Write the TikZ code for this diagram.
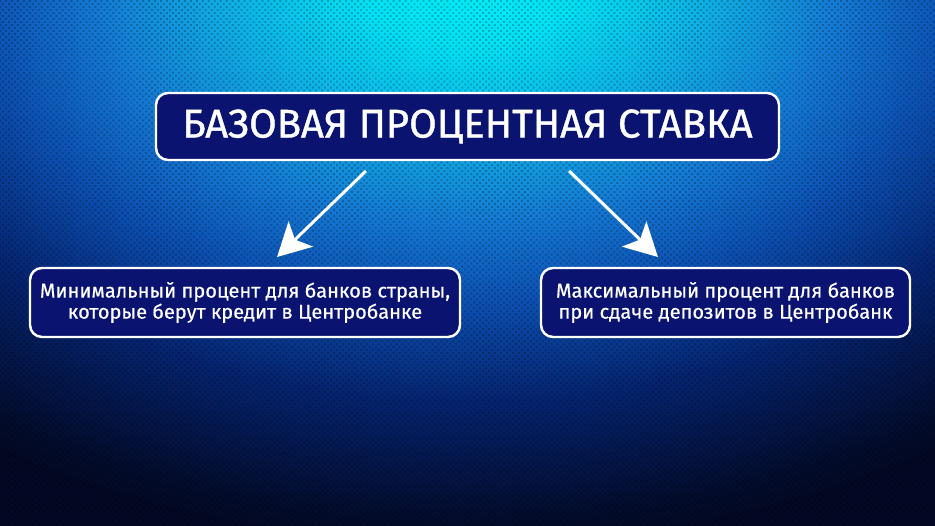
\documentclass[tikz,border=0pt]{standalone}
\usepackage{fontspec}
\setmainfont{Fira Sans}
\newfontfamily\bodyfont{Fira Sans}[FakeBold=0.5]
\newfontfamily\titlefont{Fira Sans}[FakeBold=1]
\usepackage{xcolor}
\usetikzlibrary{arrows.meta,positioning,patterns.meta}

\definecolor{bgdark}{RGB}{3,9,36}
\definecolor{boxblue}{RGB}{10,20,112}
\definecolor{glowA}{RGB}{0,242,250}
\definecolor{glowB}{RGB}{0,225,245}
\definecolor{glowC}{RGB}{15,172,228}
\definecolor{glowD}{RGB}{20,122,212}
\definecolor{glowE}{RGB}{12,80,178}
\definecolor{glowF}{RGB}{5,36,112}
\definecolor{glowG}{RGB}{3,12,45}
\pgfdeclareradialshading{glow}{\pgfpoint{0bp}{0bp}}{color(0bp)=(glowA); color(3.5bp)=(glowB); color(7.5bp)=(glowC); color(11bp)=(glowD); color(14.5bp)=(glowE); color(18.75bp)=(glowF); color(23.75bp)=(glowG); color(25bp)=(bgdark); color(50bp)=(bgdark)}

\begin{document}
\begin{tikzpicture}[
  box/.style={rectangle,rounded corners=0.24cm,draw=white,line width=1.4pt,fill=boxblue,text=white,align=center,inner sep=0pt},
  arr/.style={-{Stealth[length=0.66cm,width=0.7cm,inset=0.16cm]},draw=white,line width=1.7pt,shorten <=0.28cm,shorten >=0.28cm}
]
  \useasboundingbox (0,0) rectangle (18.7,10.52);
  \fill[bgdark] (0,0) rectangle (18.7,10.52);
  \begin{scope}
    \clip (0,0) rectangle (18.7,10.52);
    \fill[shading=glow] (9.35,11.2) ellipse (17 and 11.6);
  \end{scope}
  \fill[pattern={Dots[distance=2.4pt,radius=0.75pt,angle=45]},pattern color=black,fill opacity=0.24] (0,0) rectangle (18.7,10.52);

  \node[box,minimum width=12.46cm,minimum height=1.34cm] (stavka) at (9.35,7.99) {\titlefont\fontsize{22.8}{26}\selectfont БАЗОВАЯ ПРОЦЕНТНАЯ СТАВКА};
  \node[box,minimum width=8.6cm,minimum height=1.38cm] (minimo) at (4.9,4.47) {\bodyfont\fontsize{11.4}{14.2}\selectfont Минимальный процент для банков страны,\\ \bodyfont\fontsize{11.4}{14.2}\selectfont которые берут кредит в Центробанке};
  \node[box,minimum width=7.38cm,minimum height=1.38cm] (maximo) at (14.51,4.47) {\bodyfont\fontsize{11.4}{14.2}\selectfont Максимальный процент для банков\\ \bodyfont\fontsize{11.4}{14.2}\selectfont при сдаче депозитов в Центробанк};
  \draw[arr] ([xshift=-1.83cm]stavka.south) -- ([xshift=0.44cm]minimo.north);
  \draw[arr] ([xshift=1.83cm]stavka.south) -- ([xshift=-1.15cm]maximo.north);
\end{tikzpicture}
\end{document}
